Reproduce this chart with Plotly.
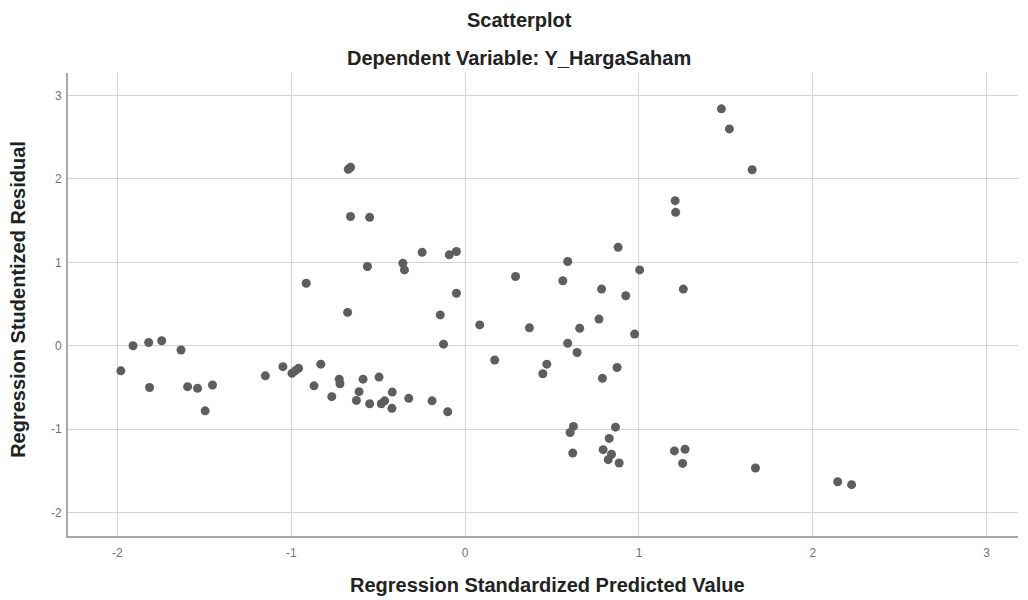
import plotly.graph_objects as go

# Regression Standardized Predicted Value (x) and Regression Studentized Residual (y)
pred_x = [
    -1.98, -1.91, -1.82, -1.745, -1.634, -1.815, -1.596, -1.539, -1.453, -1.495,
    -1.149, -1.048, -0.996, -0.977, -0.958, -0.83, -0.869, -0.724, -0.72, -0.767,
    -0.587, -0.495, -0.61, -0.625, -0.549, -0.482, -0.463, -0.419, -0.421, -0.324,
    -0.19, -0.10, -0.124,
    -0.672, -0.659, -0.659, -0.549, -0.247, -0.091, -0.05, -0.562, -0.358, -0.349,
    -0.914, -0.676, -0.05, -0.143, 0.29, 0.59, 0.562,
    0.88, 1.004, 0.785, 0.924, 1.255, 0.084, 0.37, 0.659, 0.77, 0.975,
    0.59, 0.644, 0.17, 0.47, 0.447, 0.874, 0.79, 0.623, 0.604, 0.865,
    0.829, 0.619, 0.794, 0.842, 0.823, 0.886, 1.204, 1.265, 1.251,
    1.474, 1.52, 1.651, 1.67, 2.143, 2.223, 1.208, 1.211,
]
resid_y = [
    -0.30, 0.00, 0.04, 0.06, -0.05, -0.50, -0.49, -0.51, -0.47, -0.78,
    -0.36, -0.25, -0.33, -0.30, -0.27, -0.22, -0.48, -0.40, -0.455, -0.61,
    -0.40, -0.375, -0.55, -0.655, -0.695, -0.695, -0.66, -0.555, -0.75, -0.63,
    -0.66, -0.79, 0.02,
    2.116, 2.14, 1.55, 1.54, 1.12, 1.09, 1.13, 0.95, 0.99, 0.91,
    0.75, 0.40, 0.63, 0.37, 0.83, 1.01, 0.78,
    1.18, 0.91, 0.68, 0.60, 0.68, 0.25, 0.215, 0.21, 0.32, 0.14,
    0.03, -0.08, -0.17, -0.22, -0.335, -0.26, -0.39, -0.966, -1.04, -0.975,
    -1.11, -1.285, -1.245, -1.30, -1.365, -1.405, -1.26, -1.24, -1.41,
    2.84, 2.60, 2.11, -1.465, -1.63, -1.665, 1.74, 1.60,
]

x_ticks = [-2, -1, 0, 1, 2, 3]
y_ticks = [-2, -1, 0, 1, 2, 3]

title_text = "Scatterplot"
subtitle_text = "Dependent Variable: Y_HargaSaham"
x_title = "Regression Standardized Predicted Value"
y_title = "Regression Studentized Residual"

fig = go.Figure()
fig.add_trace(go.Scatter(
    x=pred_x, y=resid_y, mode="markers",
    marker=dict(color="#5e5e5e", size=9, line=dict(width=0)),
    showlegend=False, hoverinfo="x+y",
))

font_family = "Liberation Sans, Arial, sans-serif"

# page body has an 8px margin, so the figure is sized to fill the rest of the window
fig.update_layout(
    width=1020, height=592,
    margin=dict(l=60, r=10, t=65, b=64),
    paper_bgcolor="white", plot_bgcolor="white",
    font=dict(family=font_family),
    xaxis=dict(
        range=[-2.284, 3.18], tickvals=x_ticks, ticktext=[str(v) for v in x_ticks],
        showgrid=True, gridcolor="#d4d4d4", gridwidth=1,
        zeroline=False, showline=True, linecolor="#a8a8a8", linewidth=2,
        ticks="outside", ticklen=5, tickcolor="rgba(0,0,0,0)",
        tickfont=dict(size=12, color="#727272"),
        fixedrange=True,
    ),
    yaxis=dict(
        range=[-2.28, 3.27], tickvals=y_ticks, ticktext=[str(v) for v in y_ticks],
        showgrid=True, gridcolor="#d4d4d4", gridwidth=1,
        zeroline=False, showline=True, linecolor="#a8a8a8", linewidth=2,
        ticks="outside", ticklen=2, tickcolor="rgba(0,0,0,0)",
        tickfont=dict(size=12, color="#727272"),
        fixedrange=True,
    ),
    annotations=[
        dict(text="<b>" + title_text + "</b>", xref="paper", yref="paper",
             x=0.475, y=1, yshift=53, xanchor="center", yanchor="middle",
             showarrow=False, font=dict(size=20, color="#222222")),
        dict(text="<b>" + subtitle_text + "</b>", xref="paper", yref="paper",
             x=0.475, y=1, yshift=15, xanchor="center", yanchor="middle",
             showarrow=False, font=dict(size=20, color="#222222")),
        dict(text="<b>" + x_title + "</b>", xref="paper", yref="paper",
             x=0.505, y=0, yshift=-49, xanchor="center", yanchor="middle",
             showarrow=False, font=dict(size=20, color="#222222")),
        dict(text="<b>" + y_title + "</b>", xref="paper", yref="paper",
             x=0, y=0.51, xshift=-50, xanchor="center", yanchor="middle",
             textangle=-90, showarrow=False, font=dict(size=20, color="#222222")),
    ],
)

fig.write_html("out.html")
